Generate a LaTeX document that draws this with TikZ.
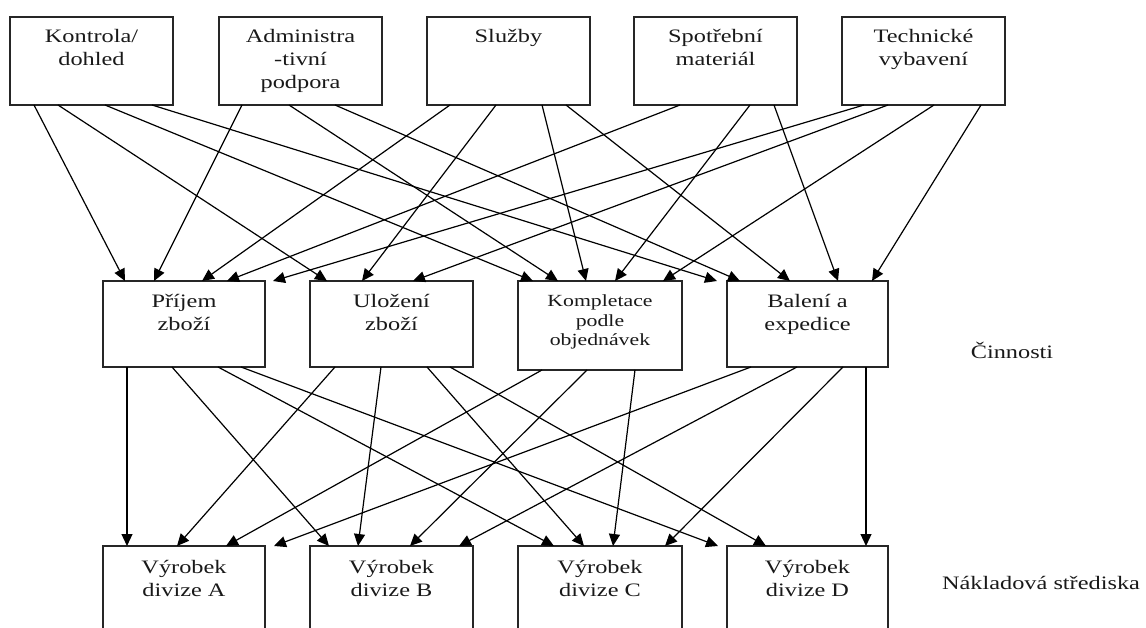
\documentclass[tikz,border=0pt]{standalone}
\usepackage{fontspec}
\setmainfont{Liberation Serif}[FakeStretch=1.28]
\usetikzlibrary{arrows.meta}

% first-line strut so every label starts at the same height
\newcommand\tstrut{\rule{0pt}{14pt}}
\newcommand\sstrut{\rule{0pt}{12.5pt}}
% connector from a bottom port of one box to a top port of another
\newcommand\link[4]{\draw[arr] ([xshift=#2pt]#1.south west) -- ([xshift=#4pt]#3.north west);}

\begin{document}
\begin{tikzpicture}[x=1pt, y=-1pt,
  box/.style={draw=black!85, line width=1.3pt, rectangle, anchor=north west,
    minimum width=#1, minimum height=88pt, inner sep=0pt, outer sep=0pt},
  box/.default=163pt,
  txt/.style={anchor=north, align=center, inner sep=0pt, text=black!90,
    font=\fontsize{19}{23}\selectfont},
  smalltxt/.style={anchor=north, align=center, inner sep=0pt, text=black!90,
    font=\fontsize{17}{19.5}\selectfont},
  side/.style={anchor=base, inner sep=0pt, text=black!90,
    font=\fontsize{19}{23}\selectfont},
  arr/.style={-{Triangle[length=12pt,width=11pt]}, line width=1.2pt}]

\path[use as bounding box, clip] (0,0) rectangle (1146,628);
\fill[white] (0,0) rectangle (1146,628);

% resources
\node[box] (kon) at (10,17) {};
\node[box] (adm) at (219,17) {};
\node[box] (slu) at (427,17) {};
\node[box] (spo) at (634,17) {};
\node[box] (tec) at (842,17) {};

% activities
\node[box=162pt, minimum height=86pt] (pri) at (103,281) {};
\node[box=163pt, minimum height=86pt] (ulo) at (310,281) {};
\node[box=164pt, minimum height=89pt] (kom) at (518,281) {};
\node[box=161pt, minimum height=86pt] (bal) at (727,281) {};

% cost centres (running past the lower edge)
\node[box=162pt, minimum height=120pt] (va) at (103,546) {};
\node[box=163pt, minimum height=120pt] (vb) at (310,546) {};
\node[box=164pt, minimum height=120pt] (vc) at (518,546) {};
\node[box=161pt, minimum height=120pt] (vd) at (727,546) {};

% box texts
\node[txt] (konT) at ([yshift=-11pt]kon.north) {\tstrut Kontrola/\\dohled};
\node[txt] (admT) at ([yshift=-11pt]adm.north) {\tstrut Administra\\-tivní\\podpora};
\node[txt] (sluT) at ([yshift=-11pt]slu.north) {\tstrut Služby};
\node[txt] (spoT) at ([yshift=-11pt]spo.north) {\tstrut Spotřební\\materiál};
\node[txt] (tecT) at ([yshift=-11pt]tec.north) {\tstrut Technické\\vybavení};

\node[txt] (priT) at ([yshift=-12pt]pri.north) {\tstrut Příjem\\zboží};
\node[txt] (uloT) at ([yshift=-12pt]ulo.north) {\tstrut Uložení\\zboží};
\node[smalltxt] (komT) at ([yshift=-13pt]kom.north) {\sstrut Kompletace\\podle\\objednávek};
\node[txt] (balT) at ([yshift=-12pt]bal.north) {\tstrut Balení a\\expedice};

\node[txt] (vaT) at ([yshift=-13pt]va.north) {\tstrut Výrobek\\divize A};
\node[txt] (vbT) at ([yshift=-13pt]vb.north) {\tstrut Výrobek\\divize B};
\node[txt] (vcT) at ([yshift=-13pt]vc.north) {\tstrut Výrobek\\divize C};
\node[txt] (vdT) at ([yshift=-13pt]vd.north) {\tstrut Výrobek\\divize D};

% row captions
\node[side] (cin) at (1012,359) {Činnosti};
\node[side] (nak) at (1041,589) {Nákladová střediska};

% resources -> activities
\link{kon}{24}{pri}{22}
\link{kon}{48}{ulo}{17}
\link{kon}{95}{kom}{15}
\link{kon}{142}{bal}{-10}

\link{adm}{23}{pri}{51}
\link{adm}{70}{kom}{40}
\link{adm}{116}{bal}{13}

\link{slu}{23}{pri}{99}
\link{slu}{69}{ulo}{52}
\link{slu}{115}{kom}{68}
\link{slu}{139}{bal}{63}

\link{spo}{46}{pri}{124}
\link{spo}{116}{kom}{97}
\link{spo}{140}{bal}{111}

\link{tec}{22}{pri}{170}
\link{tec}{46}{ulo}{103}
\link{tec}{92}{kom}{145}
\link{tec}{139}{bal}{145}

% activities -> cost centres
\link{pri}{24}{va}{24}
\link{pri}{69}{vb}{19}
\link{pri}{115}{vc}{36}
\link{pri}{138}{vd}{-9}

\link{ulo}{25}{va}{74}
\link{ulo}{71}{vb}{48}
\link{ulo}{117}{vc}{66}
\link{ulo}{140}{vd}{39}

\link{kom}{24}{va}{123}
\link{kom}{69}{vb}{100}
\link{kom}{117}{vc}{95}

\link{bal}{24}{va}{171}
\link{bal}{70}{vb}{149}
\link{bal}{116}{vc}{147}
\link{bal}{139}{vd}{139}

\end{tikzpicture}
\end{document}
